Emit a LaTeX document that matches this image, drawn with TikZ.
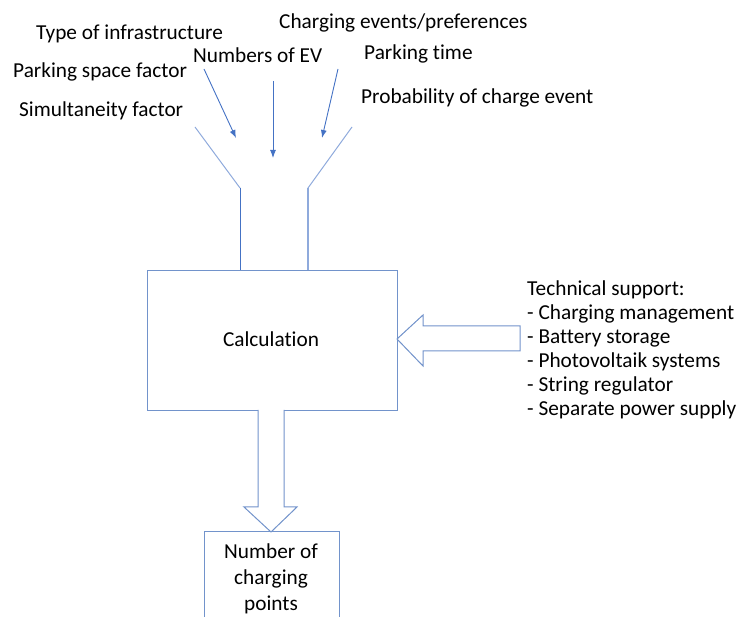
\documentclass[tikz,border=0pt]{standalone}
\usepackage{fontspec}
\setmainfont{Carlito}[Ligatures={NoCommon,NoContextual}]
\usetikzlibrary{arrows.meta}
\definecolor{cbox}{RGB}{114,147,203}
\definecolor{carrow}{RGB}{68,114,196}
\definecolor{clight}{RGB}{143,170,220}
\begin{document}
\begin{tikzpicture}[x=1pt,y=-1pt,
  lbl/.style={inner sep=0pt,anchor=base west,font=\fontsize{21.3}{24}\selectfont},
  boxline/.style={draw=cbox,line width=1pt},
  inarrow/.style={draw=carrow,line width=0.9pt,-{Latex[length=8pt,width=6pt]}},
  hollow/.style={draw=cbox,line width=1pt,fill=white,line join=miter}]
\useasboundingbox (0,0) rectangle (740,617);
% labels
\node[lbl] (t1) at (36,40) {Type of infrastructure};
\node[lbl] (t2) at (193,63) {Numbers of EV};
\node[lbl] (t3) at (13,78) {Parking space factor};
\node[lbl] (t4) at (19,117) {Simultaneity factor};
\node[lbl] (t5) at (279,29) {Charging events/preferences};
\node[lbl] (t6) at (364,60) {Parking time};
\node[lbl] (t7) at (361,104) {Probability of charge event};
% input arrows
\coordinate (a1s) at (204,69); \coordinate (a1e) at (236,138);
\coordinate (a2s) at (273,81); \coordinate (a2e) at (273,158);
\coordinate (a3s) at (338,69); \coordinate (a3e) at (322,138);
\draw[inarrow] (a1s) -- (a1e);
\draw[inarrow] (a2s) -- (a2e);
\draw[inarrow] (a3s) -- (a3e);
% calculation box
\node[boxline,minimum width=250pt,minimum height=140pt,inner sep=0pt,anchor=north west] (calc) at (147,270) {};
\node[lbl,anchor=base] (calctxt) at (271,347) {Calculation};
% funnel
\coordinate (fl1) at (195,127); \coordinate (fl2) at (240,188);
\coordinate (fr1) at (352,127); \coordinate (fr2) at (308,188);
\draw[draw=clight,line width=1pt] (fl1) -- (fl2);
\draw[draw=clight,line width=1pt] (fr1) -- (fr2);
\draw[draw=carrow,line width=0.9pt] (fl2) -- (fl2 |- calc.north);
\draw[draw=clight,line width=1.2pt] (fr2) -- (fr2 |- calc.north);
% right hollow arrow
\draw[hollow] (520,326) -- (423,326) -- (423,315) -- (397,339) -- (423,366) -- (423,351) -- (520,351) -- cycle;
% technical support text
\node[lbl,align=left,anchor=base west,font=\fontsize{21.3}{24}\selectfont] (tech) at (527,416)
 {Technical support:\\- Charging management\\- Battery storage\\- Photovoltaik systems\\- String regulator\\- Separate power supply};
% bottom hollow arrow
\draw[hollow] (258,410) -- (258,507) -- (244,507) -- (271,532) -- (297,507) -- (284,507) -- (284,410);
% result box (cut at bottom)
\draw[boxline] (204,640) -- (204,532) -- (339,532) -- (339,640);
\node[lbl,align=center,font=\fontsize{21.3}{26}\selectfont,anchor=base] (res) at (271,611)
 {Number of\\charging\\points};
\end{tikzpicture}
\end{document}
